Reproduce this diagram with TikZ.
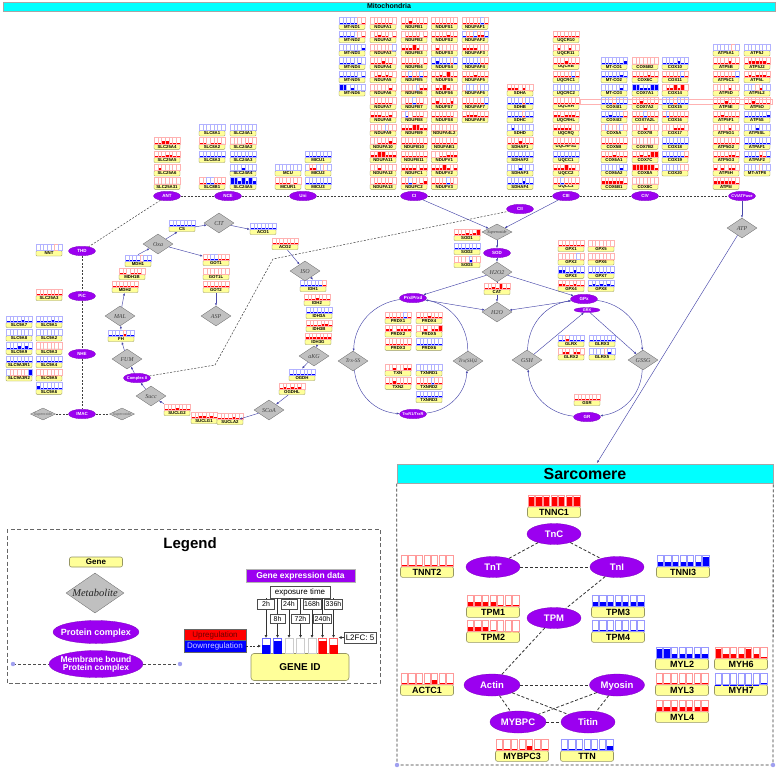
\documentclass[tikz,border=0pt]{standalone}
\usepackage{fontspec}
\setmainfont{Liberation Sans}
\newfontfamily\metf{Liberation Serif}
\usetikzlibrary{shapes.geometric,arrows.meta}
\definecolor{purp}{RGB}{155,0,240}
\definecolor{gyel}{RGB}{255,255,153}
\definecolor{gbor}{RGB}{150,150,100}
\definecolor{dgray}{RGB}{192,192,192}
\definecolor{arrc}{RGB}{72,72,170}
\definecolor{cyanb}{RGB}{0,255,255}
\definecolor{lav}{RGB}{160,160,240}
\definecolor{uptext}{RGB}{110,0,0}
\newcommand\ZT[1]{\makebox[0pt]{\smash{\raisebox{-0.35em}{#1}}}}
\def\gvR{3.5}\def\gvr{1.6}\def\gvp{0.5}\def\gvo{0}
\def\gvB{-3.5}\def\gvb{-1.6}\def\gvq{-0.5}\def\gvu{-0.01}
\newcommand\onebar[2]{%
  \edef\vv{\csname gv#2\endcsname}%
  \pgfmathsetmacro\xa{\gx-\gw/2+#1*\gw/7+\gg/2}%
  \pgfmathsetmacro\xb{\gx-\gw/2+(#1+1)*\gw/7-\gg/2}%
  \pgfmathsetmacro\yb{\gy-\gl}%
  \pgfmathsetmacro\yt{\gy-\gl-\gh}%
  \pgfmathsetmacro\yf{\gy-\gl-\gh*abs(\vv)/4}%
  \ifdim\vv pt<0pt \def\fc{blue}\else\def\fc{red}\fi
  \fill[fill=\fc] (\xa,\yb) rectangle (\xb,\yf);
  \draw[draw=\fc!\gfr,line width=\gbw] (\xa,\yb) rectangle (\xb,\yt);
}
\def\gbarsi#1#2#3#4#5#6#7{\onebar0{#1}\onebar1{#2}\onebar2{#3}\onebar3{#4}\onebar4{#5}\onebar5{#6}\onebar6{#7}}
\newcommand\MG[4]{\def\gx{#1}\def\gy{#2}\node[mgene] (g#3) at (#1,#2) {#3};\gbarsi#4}
\newcommand\SG[4]{\def\gx{#1}\def\gy{#2}\node[sgene] (g#3) at (#1,#2) {#3};\gbarsi#4}
\tikzset{
  mgene/.style={rectangle, rounded corners=1pt, fill=gyel, draw=gbor, line width=0.35pt, minimum width=26, minimum height=5.4, inner sep=0, font=\fontsize{4.3}{4.3}\selectfont\bfseries},
  sgene/.style={rectangle, rounded corners=2pt, fill=gyel, draw=gbor, line width=0.6pt, minimum width=53, minimum height=10.6, inner sep=0, font=\fontsize{9}{9}\selectfont\bfseries},
  lgene/.style={rectangle, rounded corners=2pt, fill=gyel, draw=gbor, line width=0.6pt, minimum width=53, minimum height=10, inner sep=0, font=\fontsize{8}{8}\selectfont\bfseries},
  cplx/.style={ellipse, fill=purp, draw=purp!80!black, line width=0.3pt, minimum width=27, minimum height=9.5, inner sep=0, text=white, font=\fontsize{4.5}{4.5}\selectfont\bfseries},
  scplx/.style={cplx, minimum width=54, minimum height=21, font=\fontsize{9.5}{9.5}\selectfont\bfseries},
  met/.style={diamond, fill=dgray, draw=gray!80!black, line width=0.3pt, inner sep=0, minimum width=30, minimum height=20, text=black!75, font=\metf\itshape\fontsize{6}{6}\selectfont},
  smet/.style={met, minimum width=25, minimum height=12, text=black!60, font=\fontsize{3.6}{3.6}\selectfont},
  dsh/.style={draw=black!75, dash pattern=on 2pt off 1.5pt, line width=0.5pt},
  sdsh/.style={draw=black!80, dash pattern=on 3pt off 2pt, line width=0.8pt},
  arr/.style={draw=arrc, line width=0.45pt, -{Latex[length=2.6pt,width=2.2pt]}},
  tbox/.style={rectangle, draw=black!70, fill=white, line width=0.6pt, minimum height=9.5, inner sep=0, font=\fontsize{7}{7}\selectfont},
  tarr/.style={draw=black!80, line width=0.6pt, -{Latex[length=3pt,width=3pt]}},
}
\begin{document}
\begin{tikzpicture}[x=1pt,y=-1pt]
\useasboundingbox (0,0) rectangle (779,769);
\fill[white] (0,0) rectangle (779,769);
% headers
\node[fill=cyanb, draw=gray!70, minimum width=772, minimum height=9, inner sep=0, font=\fontsize{7}{7}\selectfont\bfseries] (mitohead) at (389,6.5) {\ZT{Mitochondria}};
\draw[red!30, line width=0.4pt] (580,98.7) rectangle (772,104);
% ---------------- mito genes
\def\gw{26}\def\gh{6.5}\def\gl{2.7}\def\gg{0}\def\gbw{0.3pt}\def\gfr{30}
\MG{352}{26.7}{MT-ND1}{qqqqqop}
\MG{352}{40}{MT-ND2}{qqqquop}
\MG{352}{53.3}{MT-ND3}{qqqquqb}
\MG{352}{66.7}{MT-ND4}{qqqququ}
\MG{352}{80}{MT-ND5}{qqqqquq}
\MG{352}{93.3}{MT-ND6}{BBqbqqu}
\MG{383}{26.7}{NDUFA1}{opppppo}
\MG{383}{40}{NDUFA2}{oprppop}
\MG{383}{53.3}{NDUFA3}{oooooou}
\MG{383}{66.7}{NDUFA4}{ppprppo}
\MG{383}{80}{NDUFA5}{oprprpo}
\MG{383}{93.3}{NDUFA6}{oopppro}
\MG{383}{106.7}{NDUFA7}{opppppo}
\MG{383}{120}{NDUFA8}{rrrppro}
\MG{383}{133.3}{NDUFA9}{opppqpo}
\MG{383}{146.7}{NDUFA10}{ooppprp}
\MG{383}{160}{NDUFA11}{rrRRrrr}
\MG{383}{173.3}{NDUFA12}{pprpppp}
\MG{383}{186.7}{NDUFA13}{opppppo}
\MG{414}{26.7}{NDUFB1}{pprpppp}
\MG{414}{40}{NDUFB2}{oppppop}
\MG{414}{53.3}{NDUFB3}{rrrRrpp}
\MG{414}{66.7}{NDUFB4}{pppppop}
\MG{414}{80}{NDUFB5}{ppqppqp}
\MG{414}{93.3}{NDUFB6}{ooooqrr}
\MG{414}{106.7}{NDUFB7}{oppqppo}
\MG{414}{120}{NDUFB8}{oqopppo}
\MG{414}{133.3}{NDUFB9}{rrrRRrr}
\MG{414}{146.7}{NDUFB10}{ppppppp}
\MG{414}{160}{NDUFB11}{ppppppp}
\MG{414}{173.3}{NDUFC1}{rrrrprr}
\MG{414}{186.7}{NDUFC2}{ppqpopr}
\MG{444.3}{26.7}{NDUFS1}{ppppppp}
\MG{444.3}{40}{NDUFS2}{pppprpp}
\MG{444.3}{53.3}{NDUFS3}{prppppp}
\MG{444.3}{66.7}{NDUFS4}{qbqqqpq}
\MG{444.3}{80}{NDUFS5}{pprpRpp}
\MG{444.3}{93.3}{NDUFS6}{prrRrpp}
\MG{444.3}{106.7}{NDUFS7}{prpppro}
\MG{444.3}{120}{NDUFS8}{ppppppo}
\MG{444.3}{133.3}{NDUFA4L2}{ooooooo}
\MG{444.3}{146.7}{NDUFAB1}{ppppppp}
\MG{444.3}{160}{NDUFV1}{oopprrr}
\MG{444.3}{173.3}{NDUFV2}{rrrRrpr}
\MG{444.3}{186.7}{NDUFV3}{ppppqpo}
\MG{475}{26.7}{NDUFAF1}{pppppqp}
\MG{475}{40}{NDUFAF2}{qppqrrq}
\MG{475}{53.3}{NDUFAF3}{rrrrppp}
\MG{475}{66.7}{NDUFAF4}{qqqqqpp}
\MG{475}{80}{NDUFAF5}{ppprppp}
\MG{475}{93.3}{NDUFAF6}{oqqqpqq}
\MG{475}{106.7}{NDUFAF7}{ppppppq}
\MG{475}{120}{NDUFAF8}{prrrppp}
% complex II
\MG{520}{93.3}{SDHA}{rrrprpo}
\MG{520}{106.7}{SDHB}{qqqqpqq}
\MG{520}{120}{SDHC}{qqqqpqq}
\MG{520}{133.3}{SDHD}{qbqqqqq}
\MG{520}{146.7}{SDHAF1}{ppprppp}
\MG{520}{160}{SDHAF2}{qqqqqqq}
\MG{520}{173.3}{SDHAF3}{qqqbqqq}
\MG{520}{186.7}{SDHAF4}{qqqqbqq}
% complex III
\MG{566}{40}{UQCR10}{ppppppp}
\MG{566}{53.3}{UQCR11}{prpprpp}
\MG{566}{66.7}{UQCRB}{ppprppp}
\MG{566}{80}{UQCRC1}{pppppqp}
\MG{566}{93.3}{UQCRC2}{qqqqqqq}
\MG{566}{106.7}{UQCRH}{ppppppp}
\MG{566}{120}{UQCRHL}{rrprrrp}
\MG{566}{133.3}{UQCRQ}{rrrrrpp}
\MG{566}{146.7}{UQCRFS1}{ppppppp}
\MG{566}{160}{UQCC1}{qqqqqqq}
\MG{566}{173.3}{UQCC2}{rrrRrrp}
\MG{566}{186.7}{UQCC3}{ppqpppp}
% complex IV
\MG{614}{66.7}{MT-CO1}{qqqqqqb}
\MG{614}{80}{MT-CO2}{qqqqqbq}
\MG{614}{93.3}{MT-CO3}{qqqqqbq}
\MG{614}{106.7}{COX4I1}{qqqpqqq}
\MG{614}{120}{COX4I2}{qqbqqqp}
\MG{614}{133.3}{COX5A}{pqpppqp}
\MG{614}{146.7}{COX5B}{ppppppp}
\MG{614}{160}{COX6A1}{ppprppp}
\MG{614}{173.3}{COX6A2}{qqqqqbq}
\MG{614}{186.7}{COX6B1}{rrrrrrp}
\MG{645}{66.7}{COX6B2}{ooooooo}
\MG{645}{80}{COX6C}{pppprpp}
\MG{645}{93.3}{COX7A1}{BBbbbBB}
\MG{645}{106.7}{COX7A2}{pprpppp}
\MG{645}{120}{COX7A2L}{pppqppp}
\MG{645}{133.3}{COX7B}{ppprppp}
\MG{645}{146.7}{COX7B2}{ooooooo}
\MG{645}{160}{COX7C}{pprprRR}
\MG{645}{173.3}{COX8A}{RRRRRRr}
\MG{645}{186.7}{COX8C}{ooooooo}
\MG{675}{66.7}{COX10}{qqqqbqq}
\MG{675}{80}{COX11}{pppppqp}
\MG{675}{93.3}{COX14}{prrRrRp}
\MG{675}{106.7}{COX15}{qqqpqqq}
\MG{675}{120}{COX16}{pqppppp}
\MG{675}{133.3}{COX17}{ppprrrp}
\MG{675}{146.7}{COX18}{qqqqqqq}
\MG{675}{160}{COX19}{qqqqqqp}
\MG{675}{173.3}{COX20}{qqqqqpp}
% complex V
\MG{726}{53.3}{ATP5A1}{qqqqqpq}
\MG{726}{66.7}{ATP5B}{pppprpp}
\MG{726}{80}{ATP5C1}{ppppppq}
\MG{726}{93.3}{ATP5D}{pppprpp}
\MG{726}{106.7}{ATP5E}{ppprppp}
\MG{726}{120}{ATP5F1}{pprpppp}
\MG{726}{133.3}{ATP5G1}{pppprpp}
\MG{726}{146.7}{ATP5G2}{ppppppp}
\MG{726}{160}{ATP5G3}{pppprrp}
\MG{726}{173.3}{ATP5H}{rprprrp}
\MG{726}{186.7}{ATP5I}{rrrrrrp}
\MG{757}{53.3}{ATP5J}{qqqqqqq}
\MG{757}{66.7}{ATP5J2}{prrrrrp}
\MG{757}{80}{ATP5L}{prprrrp}
\MG{757}{93.3}{ATP5L2}{qqqprqq}
\MG{757}{106.7}{ATP5O}{pprpppp}
\MG{757}{120}{ATP5S}{qqqqqqb}
\MG{757}{133.3}{ATP5SL}{qqqbqqq}
\MG{757}{146.7}{ATPAF1}{qqqqqqq}
\MG{757}{160}{ATPAF2}{qqqqrpq}
\MG{757}{173.3}{MT-ATP8}{qqqqpqq}
% ANT, NCE, Uni
\MG{167}{146.7}{SLC25A4}{pprrppp}
\MG{167}{160}{SLC25A5}{ppprrpp}
\MG{167}{173.3}{SLC25A6}{prppppp}
\MG{167}{186.7}{SLC25A31}{ooooooo}
\MG{212}{133.3}{SLC8A1}{qqqqqqq}
\MG{212}{146.7}{SLC8A2}{ppopppo}
\MG{212}{160}{SLC8A3}{qqqqqqq}
\MG{212}{186.7}{SLC8B1}{ppqqppp}
\MG{243}{133.3}{SLC24A1}{qqqqqqq}
\MG{243}{146.7}{SLC24A2}{ooooppo}
\MG{243}{160}{SLC24A3}{qqqqqqq}
\MG{243}{173.3}{SLC24A4}{uuubuuu}
\MG{243}{186.7}{SLC24A5}{BBbBbBb}
\MG{288}{173.3}{MCU}{qqqqqqq}
\MG{288}{186.7}{MCUR1}{ppppopo}
\MG{318}{160}{MICU1}{qqqqqqq}
\MG{318}{173.3}{MICU2}{qrrqqpq}
\MG{318}{186.7}{MICU3}{qqqqqqq}
% left column
\MG{49}{253.3}{NNT}{qqqqqpq}
\MG{49}{298}{SLC25A3}{ppppppp}
\MG{19}{325}{SLC9A7}{qqqqbqq}
\MG{19}{338.3}{SLC9A8}{qqqqqqq}
\MG{19}{351.7}{SLC9A9}{qqqbqbq}
\MG{19}{365}{SLC9A3R1}{qqqqqqq}
\MG{19}{378.3}{SLC9A3R2}{qpooooB}
\MG{49}{325}{SLC9A1}{qqqqbqq}
\MG{49}{338.3}{SLC9A2}{qqqqqqq}
\MG{49}{351.7}{SLC9A3}{ooooooo}
\MG{49}{365}{SLC9A4}{qqqqqqq}
\MG{49}{378.3}{SLC9A5}{pooooop}
\MG{49}{391.7}{SLC9A6}{bqqqqqq}
% TCA genes
\MG{182}{229}{CS}{qqqqqqq}
\MG{263}{232}{ACO1}{qqqqqqq}
\MG{285}{247}{ACO2}{ppppppp}
\MG{138}{264}{MDH1}{qqqqoqq}
\MG{132}{277}{MDH1B}{ppopppo}
\MG{125}{290}{MDH2}{ppppppp}
\MG{216}{263}{GOT1}{ppqqppp}
\MG{216}{277}{GOT1L}{ooooooo}
\MG{216}{290}{GOT2}{ppppppp}
\MG{121}{339}{FH}{qqqqrqq}
\MG{313}{289}{IDH1}{qqqqqqp}
\MG{317}{303}{IDH2}{ppprppp}
\MG{319}{316}{IDH3A}{qqqqqqq}
\MG{319}{329}{IDH3B}{pppprrp}
\MG{318}{342}{IDH3G}{rrrrrrr}
\MG{302}{378}{OGDH}{qqqqqqq}
\MG{292}{392}{OGDHL}{prprpro}
\MG{177}{413}{SUCLG2}{ppprppp}
\MG{204}{421}{SUCLG1}{pprrprp}
\MG{230}{422}{SUCLA2}{pppprpp}
% ROS genes
\MG{467}{238}{SOD1}{ppprprR}
\MG{467}{252}{SOD2}{qqqqqqq}
\MG{467}{265}{SOD3}{ooooboo}
\MG{497}{292}{CAT}{pprpRpp}
\MG{398}{321}{PRDX1}{pppppqp}
\MG{398}{334.3}{PRDX2}{rrprrrr}
\MG{398}{347.7}{PRDX3}{ppppppp}
\MG{429}{321}{PRDX4}{ppprppp}
\MG{429}{334.3}{PRDX5}{pprprrR}
\MG{429}{347.7}{PRDX6}{qqqqqqq}
\MG{398}{373.3}{TXN}{pprpprr}
\MG{398}{386.7}{TXN2}{pprpppp}
\MG{429}{373.3}{TXNRD1}{qqqqqqq}
\MG{429}{386.7}{TXNRD2}{ppppqpp}
\MG{429}{400}{TXNRD3}{qqqqqqq}
\MG{571}{249}{GPX1}{ppppppp}
\MG{601}{249}{GPX5}{ooooooo}
\MG{571}{262.3}{GPX2}{pppppqo}
\MG{601}{262.3}{GPX6}{ooooooo}
\MG{571}{275.7}{GPX3}{bbqqbqq}
\MG{601}{275.7}{GPX7}{qqqqqqq}
\MG{571}{289}{GPX4}{rrpprpp}
\MG{601}{289}{GPX8}{qbqbqbq}
\MG{571}{344}{GLRX}{qqrqqqq}
\MG{602}{344}{GLRX3}{qqqqqqq}
\MG{571}{357.3}{GLRX2}{prrprro}
\MG{602}{357.3}{GLRX5}{qqqqpbq}
\MG{587}{403}{GSR}{ppppppp}
% ---------------- complexes
\node[cplx] (ANT) at (167,196) {\ZT{ANT}};
\node[cplx] (NCE) at (228,196) {\ZT{NCE}};
\node[cplx] (Uni) at (303,196) {\ZT{Uni}};
\node[cplx] (CI) at (414,196) {\ZT{CI}};
\node[cplx] (CII) at (520,209) {\ZT{CII}};
\node[cplx] (CIII) at (566,196) {\ZT{CIII}};
\node[cplx] (CIV) at (645,196) {\ZT{CIV}};
\node[cplx, font=\fontsize{4}{4}\selectfont\bfseries] (CV) at (742,196) {\ZT{CV/ATPase}};
\node[cplx] (THD) at (82,251) {\ZT{THD}};
\node[cplx] (PiC) at (82,296) {\ZT{PiC}};
\node[cplx] (NHE) at (82,354) {\ZT{NHE}};
\node[cplx] (IMAC) at (82,414) {\ZT{IMAC}};
\node[smet] (supL) at (43,414) {\ZT{Superoxide}};
\node[smet] (supR) at (122,414) {\ZT{Superoxide}};
\node[cplx, font=\fontsize{4}{4}\selectfont\bfseries] (cxII) at (137,378) {\ZT{Complex II}};
% metabolites TCA
\node[met] (CIT) at (219,223) {\ZT{CIT}};
\node[met] (Oxa) at (158,244) {\ZT{Oxa}};
\node[met] (ISO) at (305,271) {\ZT{ISO}};
\node[met] (MAL) at (120,316) {\ZT{MAL}};
\node[met] (ASP) at (216,316) {\ZT{ASP}};
\node[met] (FUM) at (127,359) {\ZT{FUM}};
\node[met] (Succ) at (151,396) {\ZT{Succ}};
\node[met] (SCoA) at (269,410) {\ZT{SCoA}};
\node[met] (aKG) at (314,356) {\ZT{aKG}};
% ROS
\node[met, minimum height=16, font=\metf\itshape\fontsize{4.3}{4.3}\selectfont] (supx) at (497,232) {\ZT{Superoxide}};
\node[cplx] (SOD) at (497,253) {\ZT{SOD}};
\node[met] (h2o2) at (497,272) {\ZT{H2O2}};
\node[met] (h2o) at (497,312) {\ZT{H2O}};
\node[cplx] (Prx) at (413,298) {\ZT{Prx/Prxd}};
\node[cplx] (GPx) at (584,299) {\ZT{GPx}};
\node[cplx, minimum width=26, minimum height=5, font=\fontsize{3.8}{3.8}\selectfont\bfseries] (GRX) at (587,310) {\ZT{GRX}};
\node[met, font=\metf\itshape\fontsize{5.5}{5.5}\selectfont] (TrxSS) at (353,361) {\ZT{Trx-SS}};
\node[met, font=\metf\itshape\fontsize{5}{5}\selectfont] (TrxSH) at (468,361) {\ZT{Trx(SH)2}};
\node[cplx, font=\fontsize{4}{4}\selectfont\bfseries] (TrxR) at (413,414) {\ZT{TrxR1/TrxR}};
\node[met] (GSH) at (527,360) {\ZT{GSH}};
\node[met] (GSSG) at (643,360) {\ZT{GSSG}};
\node[cplx] (GR) at (587,417) {\ZT{GR}};
\node[met] (ATP) at (742,228) {\ZT{ATP}};
% ---------------- connectors mito
\draw[dsh] (ANT) -- (NCE);
\draw[dsh] (NCE) -- (Uni);
\draw[dsh] (Uni) -- (CI);
\draw[dsh] (CI) -- (CIII);
\draw[dsh] (CIII) -- (CIV);
\draw[dsh] (CIV) -- (CV);
\draw[dsh] (ANT) -- (THD);
\draw[dsh] (THD) -- (PiC);
\draw[dsh] (PiC) -- (NHE);
\draw[dsh] (NHE) -- (IMAC);
\draw[dsh] (IMAC) -- (supL);
\draw[dsh] (IMAC) -- (supR);
\coordinate (cIIa) at (215,365);
\coordinate (cIIb) at (273,259);
\draw[dsh] (cxII) -- (cIIa) -- (cIIb) -- (CII);
% TCA arrows
\draw[arr] (Oxa) -- (gCS);
\draw[arr] (gCS) -- (CIT);
\draw[arr] (CIT) -- (gACO1);
\draw[arr] (gACO2) -- (ISO);
\draw[arr] (ISO) -- ([yshift=6.5pt]gIDH1.north);
\draw[arr] (gIDH3G) -- (aKG);
\draw[arr] (aKG) -- ([yshift=6.5pt]gOGDH.north);
\draw[arr] (gOGDHL) -- (SCoA);
\draw[arr] (SCoA) -- (gSUCLA2);
\draw[arr] ([yshift=6.5pt]gSUCLG2.north west) -- (Succ);
\draw[arr] (Succ) -- (cxII);
\draw[arr] (cxII) -- (FUM);
\draw[arr] (FUM) -- (gFH);
\draw[arr] ([yshift=6.5pt]gFH.north) -- (MAL);
\draw[arr] (MAL) -- (gMDH2);
\draw[arr] ([yshift=6.5pt]gMDH1.north) -- (Oxa);
\draw[arr] (Oxa) -- ([yshift=4pt]gGOT1.north west);
\draw[arr] (gGOT2) -- (ASP);
% ROS arrows
\draw[arr] (CI) -- (supx);
\draw[arr] (CIII) -- (supx);
\draw[arr] (supx) -- (SOD);
\draw[arr] (SOD) -- (h2o2);
\draw[draw=arrc, line width=0.45pt] (h2o2) -- ([yshift=6.5pt]gCAT.north);
\draw[arr] (gCAT) -- (h2o);
\draw[arr] (h2o2) -- (Prx);
\draw[arr] (h2o2) -- (GPx);
\draw[arr] (Prx) -- (h2o);
\draw[arr] (GPx) -- (h2o);
\draw[arr] (Prx) to[bend right=40] (TrxSS);
\draw[arr] (TrxSS) to[bend right=40] (TrxR);
\draw[arr] (TrxR) to[bend right=40] (TrxSH);
\draw[arr] (TrxSH) to[bend right=40] (Prx);
\draw[arr] (GSH) to[bend left=40] (GPx);
\draw[arr] (GPx) to[bend left=40] (GSSG);
\draw[arr] (GSSG) to[bend left=40] (GR);
\draw[arr] (GR) to[bend left=40] (GSH);
\draw[arr] (GSH) -- (GRX);
\draw[arr] (GRX) -- (GSSG);
\draw[arr] (CV) -- (ATP);
\coordinate (sarcin) at (597,463);
\draw[arr] (ATP) -- (sarcin);
% ---------------- Sarcomere
\node[fill=cyanb, draw=gray!70, minimum width=376, minimum height=19, inner sep=0, font=\fontsize{16}{16}\selectfont\bfseries] (sarchead) at (585,474) {\ZT{Sarcomere}};
\coordinate (sbl) at (397,765);
\coordinate (sbr) at (773,765);
\draw[sdsh] (sarchead.south west) -- (sbl) -- (sbr) -- (sarchead.south east);
\fill[lav] (sbl) circle (2.2);
\fill[lav] (sbr) circle (2.2);
\def\gw{53}\def\gh{11}\def\gl{5.3}\def\gg{1.3}\def\gbw{0.6pt}\def\gfr{40}
\SG{554}{512}{TNNC1}{RRRRRRR}
\SG{427}{572}{TNNT2}{ppppppp}
\SG{683}{572}{TNNI3}{bbbbbbB}
\SG{493}{612}{TPM1}{rrrrppp}
\SG{618}{612}{TPM3}{bbbbbbb}
\SG{493}{637}{TPM2}{rrrpooo}
\SG{618}{637}{TPM4}{qqqqqqq}
\SG{682}{664}{MYL2}{BBbbbbb}
\SG{741}{664}{MYH6}{RrrrRrp}
\SG{682}{690}{MYL3}{ppppppp}
\SG{741}{690}{MYH7}{uuuuuuq}
\SG{682}{717}{MYL4}{rrrrrrr}
\SG{427}{690}{ACTC1}{pppprpp}
\SG{522}{756}{MYBPC3}{pppprpp}
\SG{587}{756}{TTN}{qqqqqqb}
\node[scplx] (TnC) at (554,534) {\ZT{TnC}};
\node[scplx] (TnT) at (493,567) {\ZT{TnT}};
\node[scplx] (TnI) at (617,567) {\ZT{TnI}};
\node[scplx] (TPM) at (554,618) {\ZT{TPM}};
\node[scplx, minimum width=56, minimum height=22] (Actin) at (492,685) {\ZT{Actin}};
\node[scplx, minimum width=55, minimum height=22] (Myosin) at (617,685) {\ZT{Myosin}};
\node[scplx, minimum width=56, minimum height=22] (MYBPC) at (518,722) {\ZT{MYBPC}};
\node[scplx, minimum width=54, minimum height=22] (Titin) at (588,722) {\ZT{Titin}};
\draw[sdsh] (TnC) -- (TnT);
\draw[sdsh] (TnC) -- (TnI);
\draw[sdsh] (TnT) -- (TnI);
\draw[sdsh] (TnI) -- (TPM);
\draw[sdsh] (TPM) -- (Actin);
\draw[sdsh] (Actin) -- (Myosin);
\draw[sdsh] (Actin) -- (MYBPC);
\draw[sdsh] (Actin) -- (Titin);
\draw[sdsh] (Myosin) -- (MYBPC);
\draw[sdsh] (Myosin) -- (Titin);
\draw[sdsh] (MYBPC) -- (Titin);
% ---------------- Legend
\draw[draw=black!60, dash pattern=on 4pt off 2.5pt, line width=0.9pt] (7,529) rectangle (380,683);
\node[inner sep=0, font=\fontsize{15}{15}\selectfont\bfseries] (legT) at (190,543) {\ZT{Legend}};
\node[lgene] (legG) at (96,562) {\ZT{Gene}};
\node[met, minimum width=58, minimum height=40, text=black!85, font=\metf\itshape\fontsize{10.5}{10.5}\selectfont] (legM) at (95,593) {\ZT{Metabolite}};
\node[cplx, minimum width=86, minimum height=23, font=\fontsize{9}{9}\selectfont\bfseries] (legP) at (96,632) {\ZT{Protein complex}};
\coordinate (memL) at (13,664);
\coordinate (memR) at (180,664);
\draw[draw=black!70, dash pattern=on 3pt off 2pt, line width=0.8pt] (memL) -- (memR);
\fill[lav] (memL) circle (2.2);
\fill[lav] (memR) circle (2.2);
\node[cplx, minimum width=94, minimum height=27, font=\fontsize{8.5}{9}\selectfont\bfseries] (legMB) at (96,664) {\makebox[0pt]{\smash{\raisebox{-0.3em}{\renewcommand\arraystretch{0.85}\begin{tabular}{@{}c@{}}Membrane bound\\Protein complex\end{tabular}}}}};
% gene expression legend
\node[rectangle, fill=purp, draw=gray!60, minimum width=109, minimum height=13, inner sep=0, text=white, font=\fontsize{8.5}{8.5}\selectfont\bfseries] (gexp) at (300.5,575.5) {\ZT{Gene expression data}};
\node[tbox, minimum width=60, minimum height=12, font=\fontsize{8}{8}\selectfont] (expt) at (300,592) {\ZT{exposure time}};
\node[tbox, minimum width=17] (t2) at (266,604.5) {\ZT{2h}};
\node[tbox, minimum width=16] (t24) at (289,604.5) {\ZT{24h}};
\node[tbox, minimum width=18] (t168) at (312,604.5) {\ZT{168h}};
\node[tbox, minimum width=18] (t336) at (333.5,604.5) {\ZT{336h}};
\node[tbox, minimum width=15] (t8) at (277.5,619) {\ZT{8h}};
\node[tbox, minimum width=18] (t72) at (300.5,619) {\ZT{72h}};
\node[tbox, minimum width=18] (t240) at (322.5,619) {\ZT{240h}};
\foreach \t in {t2,t24,t168,t336,t8,t72,t240} {\draw[draw=black!80, line width=0.6pt] (expt.south -| \t) -- (\t);}
\node[lgene, minimum width=98, minimum height=27, rounded corners=3pt, font=\fontsize{10}{10}\selectfont\bfseries] (gid) at (300,667) {\ZT{GENE ID}};
% bars
\draw[blue!60, line width=0.6pt] (262,638) rectangle (270,653.5); \fill[blue] (262,645) rectangle (270,653.5);
\draw[blue!60, line width=0.6pt] (273.5,638) rectangle (281.5,653.5); \fill[blue] (273.5,640.5) rectangle (281.5,653.5);
\draw[gray!40, line width=0.6pt] (285,638) rectangle (293,653.5);
\draw[gray!40, line width=0.6pt] (296.5,638) rectangle (304.5,653.5);
\draw[gray!40, line width=0.6pt] (308,638) rectangle (316,653.5);
\draw[red!60, line width=0.6pt] (318.5,638) rectangle (326.5,653.5); \fill[red] (318.5,640.5) rectangle (326.5,653.5);
\draw[red!60, line width=0.6pt] (329.5,638) rectangle (337.5,653.5); \fill[red] (329.5,645) rectangle (337.5,653.5);
\coordinate (bt1) at (266,638);
\coordinate (bt2) at (277.5,638);
\coordinate (bt3) at (289,638);
\coordinate (bt4) at (300.5,638);
\coordinate (bt5) at (312,638);
\coordinate (bt6) at (322.5,638);
\coordinate (bt7) at (333.5,638);
\draw[tarr] (t2) -- (bt1);
\draw[tarr] (t8) -- (bt2);
\draw[tarr] (t24) -- (bt3);
\draw[tarr] (t72) -- (bt4);
\draw[tarr] (t168) -- (bt5);
\draw[tarr] (t240) -- (bt6);
\draw[tarr] (t336) -- (bt7);
\node[rectangle, fill=red, draw=black!60, minimum width=62, minimum height=11.5, inner sep=0, text=uptext, font=\fontsize{8}{8}\selectfont] (upr) at (215,634.5) {\ZT{Upregulation}};
\node[rectangle, fill=blue, draw=black!60, minimum width=62, minimum height=11.5, inner sep=0, text=white!80!blue, font=\fontsize{8}{8}\selectfont] (dnr) at (215,646) {\ZT{Downregulation}};
\coordinate (b1w) at (261,646);
\draw[draw=black!80, line width=0.6pt, dash pattern=on 2pt off 1.5pt, -{Latex[length=3pt,width=3pt]}] (dnr) -- (b1w);
\node[tbox, minimum width=32, minimum height=11, font=\fontsize{8}{8}\selectfont] (l2fc) at (360,637.5) {\ZT{L2FC: 5}};
\coordinate (b7e) at (338.5,637.5);
\draw[tarr] (l2fc) -- (b7e);
\end{tikzpicture}
\end{document}
